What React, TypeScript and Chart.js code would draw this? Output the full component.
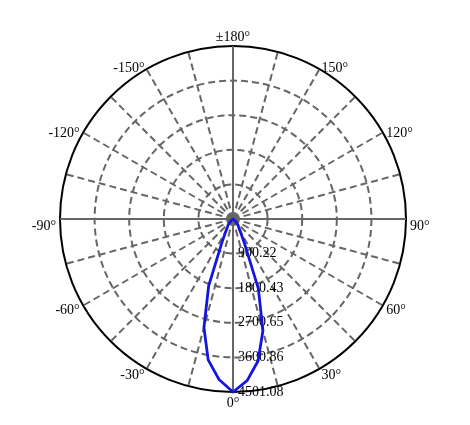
import { useEffect, useRef } from "react";
import { Chart, registerables, type ChartConfiguration, type Plugin } from "chart.js";

Chart.register(...registerables);

// gamma angles in the order the radar scale walks them (clockwise from the bottom)
const gammaAngles = [
  0, -5, -10, -15, -20, -25, -30, -35, -40, -45, -50, -55, -60, -65, -70, -75, -80, -85,
  -90, -95, -100, -105, -110, -115, -120, -125, -130, -135, -140, -145, -150, -155, -160, -165, -170, -175,
  180, 175, 170, 165, 160, 155, 150, 145, 140, 135, 130, 125, 120, 115, 110, 105, 100, 95,
  90, 85, 80, 75, 70, 65, 60, 55, 50, 45, 40, 35, 30, 25, 20, 15, 10, 5,
];

// luminous intensity (cd) at each gamma angle above
const intensity = [
  4501.08, 4190, 3720, 2920, 1850, 700, 380, 250, 195, 110, 55, 25, 12, 6, 3, 0, 0, 0,
  0, 0, 0, 0, 0, 0, 0, 0, 0, 0, 0, 0, 0, 0, 0, 0, 0, 0,
  0, 0, 0, 0, 0, 0, 0, 0, 0, 0, 0, 0, 0, 0, 0, 0, 0, 0,
  0, 0, 0, 0, 3, 6, 12, 25, 55, 115, 200, 255, 390, 720, 1930, 3010, 3750, 4220,
];

const radialTicks = [900.22, 1800.43, 2700.65, 3600.86, 4501.08];
const maxIntensity = 4501.08;
const angleLabels = [0, 30, 60, 90, 120, 150, 180, -150, -120, -90, -60, -30];

const GRID = "#666666";
const FONT = '14px "Liberation Serif", "Times New Roman", serif';

const labelsPlugin: Plugin<"radar"> = {
  id: "polarLabels",
  beforeDatasetsDraw(chart) {
    const scale: any = chart.scales.r;
    const ctx = chart.ctx;
    const R = scale.drawingArea;
    ctx.save();
    ctx.font = FONT;
    ctx.fillStyle = "#000";

    // intensity values along the 0° axis
    ctx.textAlign = "left";
    ctx.textBaseline = "middle";
    radialTicks.forEach((v) => {
      const d = scale.getDistanceFromCenterForValue(v);
      ctx.fillText(v.toFixed(2), scale.xCenter + 5, scale.yCenter + d);
    });

    // gamma angle labels around the rim
    angleLabels.forEach((a) => {
      const idx = gammaAngles.indexOf(a);
      const text = a === 180 ? "±180°" : `${a}°`;
      if (a === 0 || a === 180) {
        const p = scale.getPointPosition(idx, R + 10);
        ctx.textAlign = "center";
        ctx.fillText(text, p.x, p.y + 1);
      } else {
        const p = scale.getPointPosition(idx, R + 4);
        ctx.textAlign = a > 0 ? "left" : "right";
        ctx.fillText(text, p.x, p.y + (Math.abs(a) === 90 ? 7 : 3));
      }
    });
    ctx.restore();
  },
};

export default function App() {
  const canvasRef = useRef<HTMLCanvasElement | null>(null);

  useEffect(() => {
    const canvas = canvasRef.current;
    if (!canvas) return;

    const config: ChartConfiguration<"radar"> = {
      type: "radar",
      data: {
        labels: gammaAngles.map(String),
        datasets: [
          {
            data: intensity,
            borderColor: "#1515e0",
            borderWidth: 2.8,
            fill: false,
            pointRadius: 0,
            pointHitRadius: 0,
            tension: 0,
          },
        ],
      },
      options: {
        animation: false,
        responsive: true,
        maintainAspectRatio: false,
        layout: { padding: { left: 60, right: 64, top: 46, bottom: 33 } },
        plugins: { legend: { display: false }, tooltip: { enabled: false } },
        scales: {
          r: {
            startAngle: 180,
            min: 0,
            max: maxIntensity,
            afterBuildTicks: (scale) => {
              scale.ticks = [0, ...radialTicks].map((value) => ({ value }));
            },
            ticks: { display: false },
            pointLabels: { display: false },
            grid: {
              circular: true,
              color: (c: any) => (c.tick && c.tick.value === maxIntensity ? "#000" : GRID),
              lineWidth: 2,
            },
            border: {
              dash: (c: any) => (c.tick && c.tick.value === maxIntensity ? [] : [7, 4]),
            },
            angleLines: {
              color: GRID,
              lineWidth: (c: any) => (gammaAngles[c.index] % 15 === 0 ? 2 : 0),
              borderDash: (c: any) => (gammaAngles[c.index] % 90 === 0 ? [] : [7, 4]),
            },
          },
        },
      },
      plugins: [labelsPlugin],
    };

    const chart = new Chart(canvas, config);
    return () => chart.destroy();
  }, []);

  return (
    <div style={{ position: "absolute", left: 0, top: 0, width: 470, height: 425 }}>
      <canvas ref={canvasRef} />
    </div>
  );
}
